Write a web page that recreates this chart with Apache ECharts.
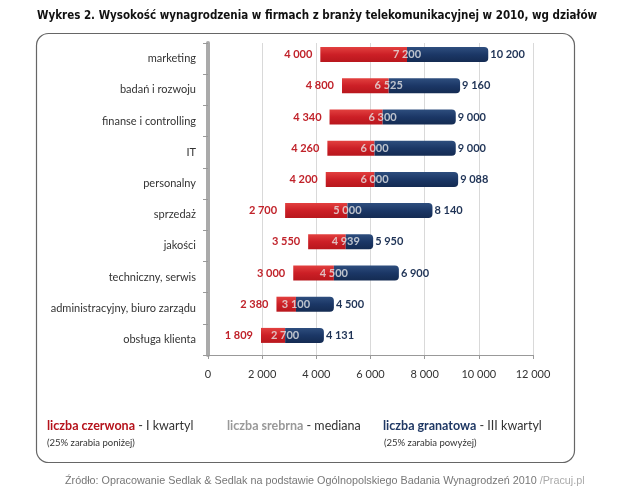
<!DOCTYPE html>
<html><head><meta charset="utf-8">
<script src="https://cdn.jsdelivr.net/npm/echarts@6/dist/echarts.min.js"></script>
<style>html,body{margin:0;padding:0;background:#fff}#c{width:623px;height:487px}</style>
</head><body><div id="c"></div>
<script>
const categories = ['marketing','badań i rozwoju','finanse i controlling','IT','personalny','sprzedaż','jakości','techniczny, serwis','administracyjny, biuro zarządu','obsługa klienta'];
const q1 = [4000,4800,4340,4260,4200,2700,3550,3000,2380,1809];
const median = [7200,6525,6300,6000,6000,5000,4939,4500,3100,2700];
const q3 = [10200,9160,9000,9000,9088,8140,5950,6900,4500,4131];
const xTicks = [0,2000,4000,6000,8000,10000,12000];

const fmt = v => String(v).replace(/\B(?=(\d{3})+(?!\d))/g, ' ');
const cats = categories.slice().reverse();
const r = a => a.slice().reverse();
const Q1 = r(q1), MED = r(median), Q3 = r(q3);

const chart = echarts.init(document.getElementById('c'));
const FONT = 'Lato';
chart.setOption({
  animation: false,
  title: {
    text: 'Wykres 2. Wysokość wynagrodzenia w firmach z branży telekomunikacyjnej w 2010, wg działów',
    left: 32, top: 5,
    textStyle: {fontFamily: 'DejaVu Sans Condensed', fontWeight: 'bold', fontSize: 11.5, color: '#111'}
  },
  graphic: [
    {type: 'rect', left: 34, top: 31, shape: {width: 538, height: 429, r: 12}, style: {fill: 'none', stroke: '#666', lineWidth: 1.2}, z: -1},
    {type: 'text', left: 47, top: 419, style: {
      text: '{r|liczba czerwona}{d| - I kwartyl}', rich: {
        r: {fontFamily: FONT, fontWeight: 'bold', fontSize: 12.5, fill: '#b5121b'},
        d: {fontFamily: FONT, fontSize: 12.5, fill: '#333'}}}},
    {type: 'text', left: 47, top: 438, style: {text: '(25% zarabia poniżej)', font: '9.5px ' + FONT, fill: '#333'}},
    {type: 'text', left: 227, top: 419, style: {
      text: '{s|liczba srebrna}{d| - mediana}', rich: {
        s: {fontFamily: FONT, fontWeight: 'bold', fontSize: 12.5, fill: '#999'},
        d: {fontFamily: FONT, fontSize: 12.5, fill: '#333'}}}},
    {type: 'text', left: 383, top: 419, style: {
      text: '{g|liczba granatowa}{d| - III kwartyl}', rich: {
        g: {fontFamily: FONT, fontWeight: 'bold', fontSize: 12.5, fill: '#1f3864'},
        d: {fontFamily: FONT, fontSize: 12.5, fill: '#333'}}}},
    {type: 'text', left: 384, top: 438, style: {text: '(25% zarabia powyżej)', font: '9.5px ' + FONT, fill: '#333'}},
    {type: 'text', left: 65, top: 476, style: {
      text: '{a|Źródło: Opracowanie Sedlak & Sedlak na podstawie Ogólnopolskiego Badania Wynagrodzeń 2010 }{b|/Pracuj.pl}', rich: {
        a: {fontFamily: 'Liberation Sans', fontSize: 10.8, fill: '#777'},
        b: {fontFamily: 'Liberation Sans', fontSize: 10.8, fill: '#aaa'}}}}
  ],
  grid: [
    {left: 208, right: 90, top: 43, bottom: 132},
    {left: 212, right: 86, top: 39, bottom: 136}
  ],
  xAxis: [{
    type: 'value', min: 0, max: 12000, interval: 2000, gridIndex: 0,
    axisLine: {show: true, lineStyle: {color: '#999'}},
    axisTick: {show: true, length: 4, lineStyle: {color: '#999'}},
    splitLine: {lineStyle: {color: '#d9d9d9'}},
    axisLabel: {margin: 14, fontFamily: FONT, fontSize: 11, color: '#333', formatter: v => fmt(v)}
  }, {
    type: 'value', min: 0, max: 12000, interval: 2000, gridIndex: 1, show: false, splitLine: {show: false}
  }],
  yAxis: [{
    type: 'category', data: cats, gridIndex: 0,
    axisLine: {show: true, lineStyle: {color: '#aaa', width: 4}},
    axisTick: {show: true, length: 5, lineStyle: {color: '#999'}},
    axisLabel: {margin: 12, fontFamily: FONT, fontSize: 11, color: '#333'}
  }, {
    type: 'category', data: cats, gridIndex: 1, show: false
  }],
  series: [
    {type: 'bar', stack: 's', xAxisIndex: 1, yAxisIndex: 1, data: Q1, itemStyle: {color: 'transparent'}, barWidth: 15, silent: true},
    {type: 'bar', stack: 's', xAxisIndex: 1, yAxisIndex: 1, data: MED.map((m, i) => m - Q1[i]),
      itemStyle: {color: new echarts.graphic.LinearGradient(0, 0, 0, 1, [{offset: 0, color: '#e2403f'}, {offset: 0.5, color: '#cc1f26'}, {offset: 1, color: '#b8171d'}])},
      label: {show: true, position: 'left', distance: 8, formatter: p => fmt(Q1[p.dataIndex]), fontFamily: FONT, fontWeight: 'bold', fontSize: 11, color: '#c0222a'}},
    {type: 'bar', stack: 's', xAxisIndex: 1, yAxisIndex: 1, data: Q3.map((v, i) => v - MED[i]),
      itemStyle: {borderRadius: [0, 4, 4, 0], color: new echarts.graphic.LinearGradient(0, 0, 0, 1, [{offset: 0, color: '#2e4e7e'}, {offset: 0.5, color: '#1b3766'}, {offset: 1, color: '#142b52'}])},
      label: {show: true, position: 'right', distance: 2, formatter: p => fmt(Q3[p.dataIndex]), fontFamily: FONT, fontWeight: 'bold', fontSize: 11, color: '#1f3356'}},
    {type: 'scatter', xAxisIndex: 1, yAxisIndex: 1, data: MED.map((m, i) => [m, cats[i]]), symbolSize: 2, itemStyle: {color: 'transparent'}, z: 5,
      label: {show: true, position: 'inside', formatter: p => fmt(p.value[0]), fontFamily: FONT, fontWeight: 'bold', fontSize: 11, color: '#e6e6e6'}}
  ]
});
</script></body></html>
